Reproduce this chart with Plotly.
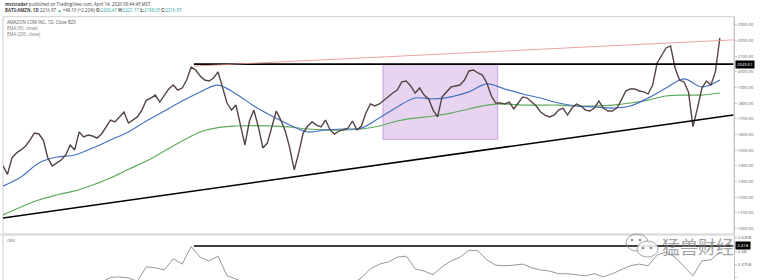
import plotly.graph_objects as go
import pandas as pd

# ---------------- data ----------------
start_date = "2018-02-03"

# AMZN daily price, sampled every 5 calendar days
close = [1400, 1345, 1450, 1482, 1501, 1525, 1564, 1609, 1603, 1564,
         1450, 1398, 1418, 1437, 1469, 1533, 1501, 1616, 1584, 1596,
         1590, 1577, 1603, 1648, 1692, 1680, 1712, 1744, 1673, 1692,
         1712, 1756, 1820, 1833, 1852, 1807, 1852, 1891, 1916, 1884,
         1897, 1948, 2031, 2012, 1974, 1948, 1942, 1961, 2000, 1897,
         1801, 1756, 1788, 1660, 1533, 1686, 1756, 1648, 1514, 1545,
         1641, 1750, 1692, 1622, 1514, 1373, 1482, 1609, 1654, 1680,
         1660, 1648, 1692, 1629, 1603, 1622, 1629, 1641, 1686, 1629,
         1654, 1737, 1795, 1782, 1795, 1820, 1846, 1865, 1884, 1936,
         1942, 1910, 1865, 1897, 1852, 1827, 1756, 1712, 1840, 1872,
         1904, 1910, 1916, 1948, 2006, 2012, 1993, 1980, 1929, 1846,
         1801, 1801, 1795, 1807, 1763, 1801, 1840, 1833, 1807, 1782,
         1744, 1724, 1712, 1724, 1756, 1769, 1724, 1769, 1795, 1782,
         1756, 1750, 1769, 1814, 1769, 1750, 1750, 1769, 1820, 1878,
         1891, 1891, 1878, 1872, 1859, 1916, 2057, 2108, 2153, 2166,
         2025, 1948, 1936, 1872, 1650, 1769, 1897, 1942, 1916, 2000,
         2216.97]

# EMA lines, sampled every 20 calendar days
ema50 = [1270, 1328, 1418, 1456, 1469, 1513, 1565, 1616, 1686, 1750,
         1814, 1872, 1916, 1859, 1782, 1718, 1661, 1616, 1629, 1635,
         1641, 1705, 1776, 1833, 1827, 1840, 1872, 1923, 1891, 1859,
         1833, 1801, 1782, 1776, 1769, 1782, 1833, 1897, 1955, 1904,
         1948]
ema200 = [1085, 1136, 1181, 1213, 1239, 1277, 1322, 1378, 1430, 1494,
          1558, 1616, 1644, 1654, 1657, 1654, 1648, 1635, 1629, 1629,
          1635, 1654, 1686, 1705, 1718, 1737, 1763, 1788, 1795, 1788,
          1788, 1788, 1782, 1782, 1788, 1801, 1820, 1846, 1852, 1852,
          1865]

# OBV (billions), sampled every 10 calendar days
obv = [2.300, 2.305, 2.310, 2.318, 2.312, 2.320, 2.325, 2.322, 2.330, 2.335,
       2.338, 2.342, 2.351, 2.352, 2.350, 2.344, 2.371, 2.369, 2.365, 2.386,
       2.376, 2.409, 2.389, 2.382, 2.391, 2.354, 2.348, 2.340, 2.335, 2.330,
       2.332, 2.325, 2.320, 2.318, 2.322, 2.328, 2.326, 2.332, 2.335, 2.340,
       2.350, 2.367, 2.376, 2.380, 2.389, 2.391, 2.367, 2.363, 2.356, 2.371,
       2.382, 2.389, 2.402, 2.401, 2.384, 2.374, 2.373, 2.374, 2.376, 2.369,
       2.365, 2.363, 2.358, 2.358, 2.356, 2.354, 2.358, 2.352, 2.358, 2.365,
       2.373, 2.376, 2.373, 2.393, 2.399, 2.389, 2.371, 2.354, 2.382, 2.384,
       2.399]

# drawings
resistance_level = 2049.61
resistance_dates = ["2018-09-04", "2020-04-28"]
upper_trend_dates = ["2018-09-04", "2020-04-28"]
upper_trend_prices = [2037, 2205]
lower_trend_dates = ["2018-02-03", "2020-04-28"]
lower_trend_prices = [1066, 1725]
box_dates = ["2019-04-03", "2019-08-09"]
box_prices = [1569, 2049.61]
obv_level = 2.41

price_ticks = list(range(1000, 2301, 100))
price_ticktext = [f"{v:.2f}" for v in price_ticks]
obv_ticks = [2.35, 2.375, 2.4, 2.425]
obv_ticktext = ["2.35B", "2.375B", "2.4B", "2.425B"]

price_dates = pd.date_range(start_date, periods=len(close), freq="5D")
ema_dates = pd.date_range(start_date, periods=len(ema50), freq="20D")
obv_dates = pd.date_range(start_date, periods=len(obv), freq="10D")

# ---------------- figure ----------------
W, H = 760, 280
def px(x):
    return x / W
def py(y):
    return 1 - y / H

fig = go.Figure()
fig.add_trace(go.Scatter(x=ema_dates, y=ema200, mode="lines", line=dict(color="#5cab5c", width=1.2, shape="spline"), hoverinfo="skip"))
fig.add_trace(go.Scatter(x=ema_dates, y=ema50, mode="lines", line=dict(color="#4472c0", width=1.2, shape="spline"), hoverinfo="skip"))
fig.add_trace(go.Scatter(x=price_dates, y=close, mode="lines", line=dict(color="#554444", width=1.4)))
fig.add_trace(go.Scatter(x=obv_dates, y=obv, mode="lines", line=dict(color="#8a8a8a", width=0.9), yaxis="y2"))

axis_font = dict(family="Open Sans", size=4.2, color="#555")
fig.update_layout(
    width=W, height=H, margin=dict(l=0, r=0, t=0, b=0),
    paper_bgcolor="white", plot_bgcolor="white", showlegend=False,
    xaxis=dict(domain=[px(3), px(734)], range=["2018-02-03", "2020-04-28 19:00"],
               showticklabels=False, showgrid=False, zeroline=False, ticks=""),
    yaxis=dict(domain=[py(234), py(16.7)], range=[963.6, 2353], side="right", anchor="x",
               tickvals=price_ticks, ticktext=price_ticktext, tickfont=axis_font,
               showgrid=False, zeroline=False, showline=True, linecolor="#c4c4c4", linewidth=1,
               ticks="outside", ticklen=2, tickcolor="#c4c4c4"),
    yaxis2=dict(domain=[0, py(235)], range=[2.3462, 2.4306], side="right", anchor="x",
                tickvals=obv_ticks, ticktext=obv_ticktext, tickfont=axis_font,
                showgrid=False, zeroline=False, showline=True, linecolor="#c4c4c4", linewidth=1,
                ticks="outside", ticklen=2, tickcolor="#c4c4c4"),
)

shapes = []
# panel borders
shapes.append(dict(type="rect", xref="paper", yref="paper", x0=px(3), x1=px(734), y0=py(234), y1=py(16.7),
                   line=dict(color="#cfcfcf", width=1), layer="below"))
shapes.append(dict(type="line", xref="paper", yref="paper", x0=0, x1=px(734), y0=py(235), y1=py(235),
                   line=dict(color="#cfcfcf", width=1)))
shapes.append(dict(type="line", xref="paper", yref="paper", x0=px(3), x1=px(3), y0=0, y1=py(235),
                   line=dict(color="#cfcfcf", width=1)))
# purple box
shapes.append(dict(type="rect", xref="x", yref="y", x0=box_dates[0], x1=box_dates[1], y0=box_prices[0], y1=box_prices[1],
                   fillcolor="rgba(205,160,225,0.45)", line=dict(color="rgba(170,110,200,0.7)", width=0.8), layer="below"))
# resistance
shapes.append(dict(type="line", xref="x", yref="y", x0=resistance_dates[0], x1=resistance_dates[1],
                   y0=resistance_level, y1=resistance_level, line=dict(color="black", width=1.6)))
# upper red trend
shapes.append(dict(type="line", xref="x", yref="y", x0=upper_trend_dates[0], x1=upper_trend_dates[1],
                   y0=upper_trend_prices[0], y1=upper_trend_prices[1], line=dict(color="#e58a8a", width=0.8)))
# lower support trend
shapes.append(dict(type="line", xref="x", yref="y", x0=lower_trend_dates[0], x1=lower_trend_dates[1],
                   y0=lower_trend_prices[0], y1=lower_trend_prices[1], line=dict(color="black", width=1.6)))
# OBV level
shapes.append(dict(type="line", xref="x", yref="y2", x0=resistance_dates[0], x1=resistance_dates[1],
                   y0=obv_level, y1=obv_level, line=dict(color="black", width=1.6)))
# WeChat-like watermark icon
shapes.append(dict(type="circle", xref="paper", yref="paper", x0=px(626), x1=px(648), y0=py(251), y1=py(234),
                   line=dict(color="rgba(140,140,140,0.8)", width=1)))
shapes.append(dict(type="circle", xref="paper", yref="paper", x0=px(637), x1=px(658), y0=py(257), y1=py(241),
                   line=dict(color="rgba(140,140,140,0.8)", width=1), fillcolor="rgba(255,255,255,0.85)"))
for cx, cy in [(632, 240), (640, 240), (643, 248), (651, 248)]:
    shapes.append(dict(type="circle", xref="paper", yref="paper", x0=px(cx - 1.3), x1=px(cx + 1.3),
                       y0=py(cy + 1.3), y1=py(cy - 1.3), line=dict(width=0), fillcolor="rgba(120,120,120,0.85)"))
fig.update_layout(shapes=shapes)

hdr = dict(family="Open Sans", size=4.4, color="#444")
green = "#26a69a"
ann = []
ann.append(dict(xref="paper", yref="paper", x=px(3), y=py(4.5), xanchor="left", yanchor="middle", showarrow=False,
                text="<b>mvttrader</b> published on TradingView.com, April 14, 2020 08:44:45 MST", font=hdr))
ann.append(dict(xref="paper", yref="paper", x=px(3), y=py(10.5), xanchor="left", yanchor="middle", showarrow=False,
                text=(f"<b>BATS:AMZN, 1D</b> 2216.97 <span style='color:{green}'>▲</span> +48.10 (+2.22%) "
                      f"<b>O:</b><span style='color:{green}'>2200.47</span> <b>H:</b><span style='color:{green}'>2221.17</span> "
                      f"<b>L:</b><span style='color:{green}'>2188.05</span> <b>C:</b><span style='color:{green}'>2216.97</span>"),
                font=hdr))
ann.append(dict(xref="paper", yref="paper", x=px(5), y=py(22), xanchor="left", yanchor="middle", showarrow=False,
                text="AMAZON COM INC, 1D, Close BZX", font=dict(family="Open Sans", size=4.4, color="#555")))
ann.append(dict(xref="paper", yref="paper", x=px(5), y=py(28), xanchor="left", yanchor="middle", showarrow=False,
                text="EMA (50, close)", font=dict(family="Open Sans", size=4.4, color="#777")))
ann.append(dict(xref="paper", yref="paper", x=px(5), y=py(34), xanchor="left", yanchor="middle", showarrow=False,
                text="EMA (200, close)", font=dict(family="Open Sans", size=4.4, color="#777")))
ann.append(dict(xref="paper", yref="paper", x=px(5), y=py(240), xanchor="left", yanchor="middle", showarrow=False,
                text="OBV", font=dict(family="Open Sans", size=4, color="#666")))
# axis value boxes
ann.append(dict(xref="paper", yref="y", x=px(735), y=resistance_level, xanchor="left", yanchor="middle", showarrow=False,
                text="2049.61", bgcolor="black", borderpad=1.2, font=dict(family="Open Sans", size=4.2, color="white")))
ann.append(dict(xref="paper", yref="y2", x=px(735), y=obv_level, xanchor="left", yanchor="middle", showarrow=False,
                text="2.41B", bgcolor="black", borderpad=1.2, font=dict(family="Open Sans", size=4.2, color="white")))
# watermark text
ann.append(dict(xref="paper", yref="paper", x=px(660), y=py(246), xanchor="left", yanchor="middle", showarrow=False,
                text="猛兽财经", font=dict(family="Noto Sans CJK SC", size=18, color="rgba(130,130,130,0.75)")))
fig.update_layout(annotations=ann)

fig.write_html("out.html")
